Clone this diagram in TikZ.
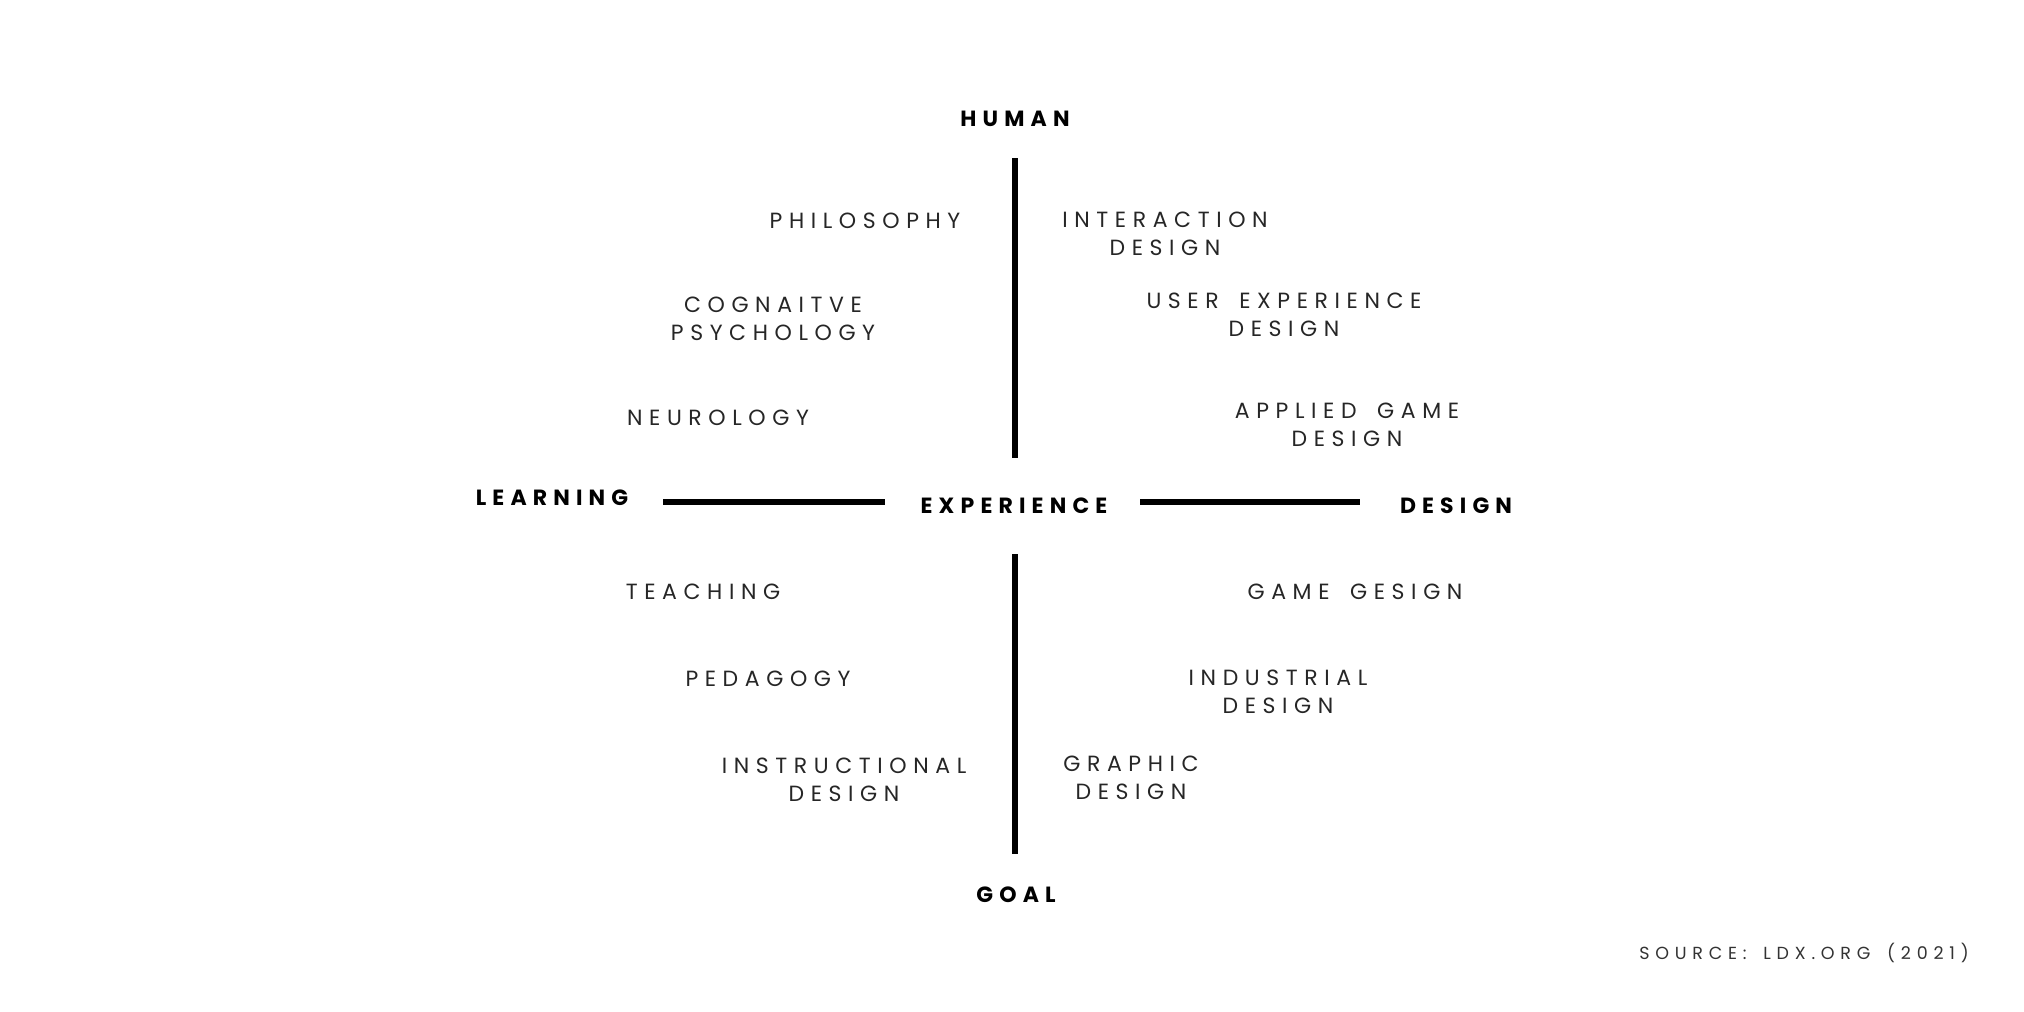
\documentclass[tikz,border=0pt]{standalone}
\usepackage{fontspec}
\setmainfont{Poppins}
\newfontfamily\itemfont[LetterSpace=30,WordSpace=1.65]{Poppins}
\newfontfamily\headfont[LetterSpace=28]{Poppins Bold}
\newfontfamily\srcfont[LetterSpace=33,WordSpace=1.6]{Poppins}
\begin{document}
\begin{tikzpicture}[x=1pt,y=-1pt,
  item/.style={font=\fontsize{22}{28}\itemfont, text=black!85, align=center, inner sep=0pt},
  head/.style={font=\fontsize{22}{28}\headfont, align=center, inner sep=0pt},
  src/.style={font=\fontsize{17.5}{20}\srcfont, text=black!80, inner sep=0pt},
  axis/.style={line width=5.5pt}]
\useasboundingbox (0,0) rectangle (2024,1012);
\fill[white] (0,0) rectangle (2024,1012);
% heads
\node[head] (human) at (1015,119) {HUMAN};
\node[head] (learning) at (552,498) {LEARNING};
\node[head] (experience) at (1014,506) {EXPERIENCE};
\node[head] (design) at (1456,506) {DESIGN};
\node[head] (goal) at (1016,895) {GOAL};
% axis coordinates
\coordinate (vt1) at (1015,158);
\coordinate (vt2) at (1015,458);
\coordinate (vb1) at (1015,554);
\coordinate (vb2) at (1015,854);
\coordinate (hl1) at (663,502);
\coordinate (hl2) at (885,502);
\coordinate (hr1) at (1140,502);
\coordinate (hr2) at (1360,502);
\draw[axis] (vt1) -- (vt2);
\draw[axis] (vb1) -- (vb2);
\draw[axis] (hl1) -- (hl2);
\draw[axis] (hr1) -- (hr2);
% items
\node[item] (philo) at (865,221) {PHILOSOPHY};
\node[item] (cog) at (773,319) {COGNAITVE\\PSYCHOLOGY};
\node[item] (neuro) at (718,418) {NEUROLOGY};
\node[item] (inter) at (1165,234) {INTERACTION\\DESIGN};
\node[item] (ux) at (1284,315) {USER EXPERIENCE\\DESIGN};
\node[item] (agd) at (1347,425) {APPLIED GAME\\DESIGN};
\node[item] (teach) at (703,592) {TEACHING};
\node[item] (peda) at (768,679) {PEDAGOGY};
\node[item] (instr) at (844,780) {INSTRUCTIONAL\\DESIGN};
\node[item] (game) at (1355,592) {GAME GESIGN};
\node[item] (indus) at (1278,692) {INDUSTRIAL\\DESIGN};
\node[item] (graph) at (1131,778) {GRAPHIC\\DESIGN};
\node[src] (source) at (1804,953) {SOURCE: LDX.ORG (2021)};
\end{tikzpicture}
\end{document}
